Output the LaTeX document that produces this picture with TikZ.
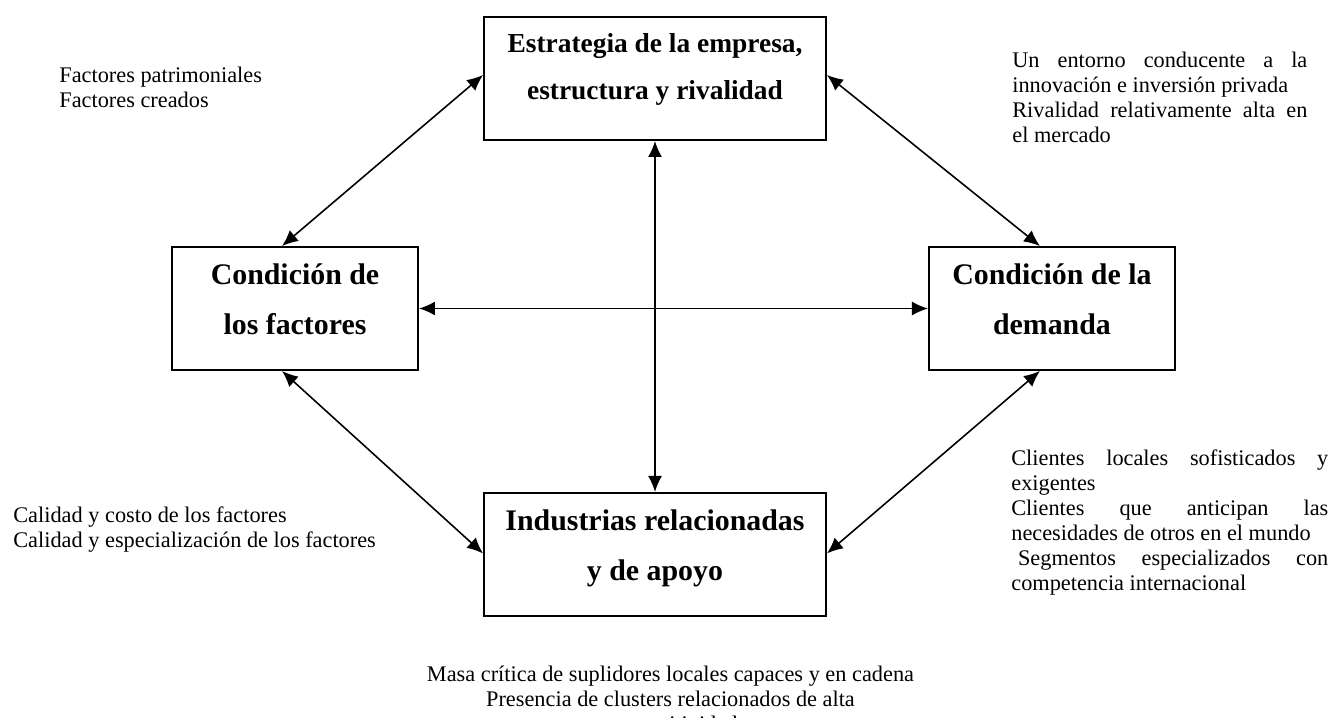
\documentclass[tikz,border=0pt]{standalone}
\usepackage{fontspec}
\setmainfont{Liberation Serif}
\usetikzlibrary{arrows.meta, positioning}

% text set for the side notes
\newcommand{\notefont}{\fontsize{12.7}{14.23}\selectfont
    \parindent=0pt\relax\parskip=0pt\relax\tolerance=10000\relax\hbadness=10000\relax}

\tikzset{
    factor/.style={draw, line width=1.1pt, minimum width=4.92cm, minimum height=2.46cm,
        inner sep=0pt, align=center, font=\fontsize{17}{28.45}\selectfont\bfseries},
    wide/.style={factor, minimum width=6.84cm},
    note/.style={inner sep=0pt, font=\notefont},
    link/.style={{Latex[length=3.2mm,width=2.8mm]}-{Latex[length=3.2mm,width=2.8mm]}, line width=0.9pt},
}
% pushes the two box lines up a little
\newcommand{\lift}{\\[-0.64cm]\mbox{}}

\begin{document}
\begin{tikzpicture}
    \useasboundingbox (0,0) rectangle (26.64,-14.34);

    % the four boxes
    \node[wide, font=\fontsize{15.6}{26.7}\selectfont\bfseries] (strategy) at (13.10,-1.57)
        {Estrategia de la empresa,\\estructura y rivalidad\\[-0.45cm]\mbox{}};
    \node[factor] (factors) at (5.90,-6.17) {Condición de\\los factores\lift};
    \node[factor, right=10.18cm of factors] (demand) {Condición de la\\demanda\lift};
    \node[wide, below=7.02cm of strategy] (industries) {Industrias relacionadas\\y de apoyo\lift};

    % notes
    \node[note, anchor=north west, align=left] (n_factors) at (1.18,-1.336)
        {Factores patrimoniales\\Factores creados};
    \node[note, anchor=north west, text width=5.9cm, align=justify] (n_strategy) at (20.24,-1.036)
        {Un entorno conducente a la\linebreak innovación e inversión privada\par
         Rivalidad relativamente alta en\linebreak el mercado};
    \node[note, anchor=north west, align=left] (n_quality) at (0.26,-10.12)
        {Calidad y costo de los factores\\Calidad y especialización de los factores};
    \node[note, anchor=north west, text width=6.34cm, align=justify] (n_demand) at (20.22,-8.98)
        {Clientes locales sofisticados y\linebreak exigentes\par
         Clientes que anticipan las\linebreak necesidades de otros en el mundo\par
         \hspace*{0.3em}Segmentos especializados con\linebreak competencia internacional};
    \node[note, anchor=north, align=center] (n_industries) at (13.41,-13.32)
        {Masa crítica de suplidores locales capaces y en cadena\\Presencia de clusters relacionados de alta\\competitividad};

    % links
    \draw[link] ([xshift=-0.26cm]factors.north) -- ([yshift=0.07cm]strategy.west);
    \draw[link] ([yshift=0.07cm]strategy.east) -- ([xshift=-0.24cm]demand.north);
    \draw[link] (factors.east) -- (demand.west);
    \draw[link] (strategy.south) -- (industries.north);
    \draw[link] ([xshift=-0.26cm]factors.south) -- ([yshift=0.02cm]industries.west);
    \draw[link] ([xshift=-0.24cm]demand.south) -- ([yshift=0.02cm]industries.east);
\end{tikzpicture}
\end{document}
